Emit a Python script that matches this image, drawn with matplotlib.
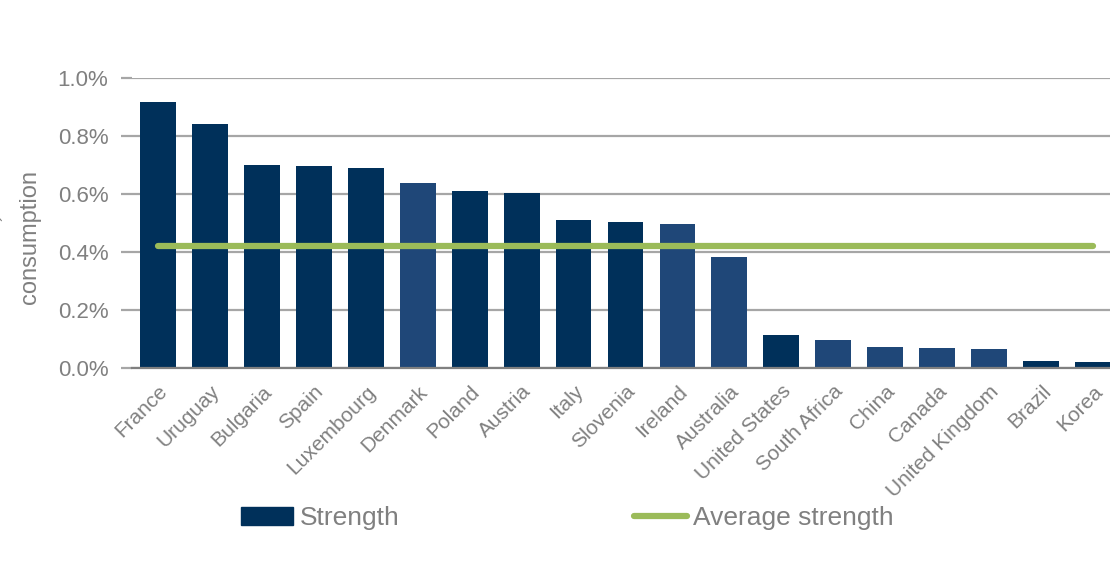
import numpy as np
import matplotlib.pyplot as plt
from matplotlib.patches import Patch
from matplotlib.lines import Line2D

plt.rcParams['font.family'] = ['Liberation Sans', 'DejaVu Sans']

# data
countries = ['France', 'Uruguay', 'Bulgaria', 'Spain', 'Luxembourg', 'Denmark',
             'Poland', 'Austria', 'Italy', 'Slovenia', 'Ireland', 'Australia',
             'United States', 'South Africa', 'China', 'Canada', 'United Kingdom',
             'Brazil', 'Korea']
strength = [0.917, 0.841, 0.700, 0.697, 0.690, 0.638, 0.610, 0.603, 0.510,
            0.503, 0.497, 0.383, 0.114, 0.097, 0.072, 0.069, 0.066, 0.024, 0.020]
average_strength = 0.421
highlight = ['Denmark', 'Ireland', 'Australia', 'South Africa', 'China',
             'Canada', 'United Kingdom']
yticks = [0.0, 0.2, 0.4, 0.6, 0.8, 1.0]

dark = '#00305A'
light = '#1F4778'
green = '#9BBB59'
grey = '#808080'

fig = plt.figure(figsize=(11.1, 5.82), dpi=100)
ax = fig.add_axes([132/1110, 1 - 368/582, (1119-132)/1110, (368-78)/582])

x = np.arange(len(countries))
colors = [light if c in highlight else dark for c in countries]
ax.bar(x, strength, width=0.69, color=colors, zorder=2)
ax.plot([x[0], x[-1]], [average_strength]*2, color=green, lw=4.5,
        solid_capstyle='round', zorder=3)

ax.set_xlim(-0.5, len(countries) - 0.5)
ax.set_ylim(0, 1.0)
ax.set_yticks(yticks)
ax.set_yticklabels(['%.1f%%' % v for v in yticks], fontsize=16, color=grey)
ax.yaxis.grid(True, color='#A6A6A6', lw=1.6, zorder=0)
ax.tick_params(axis='y', length=8, width=1.6, color='#A6A6A6', pad=9)
ax.set_xticks(x)
ax.set_xticklabels(countries, rotation=45, ha='right', rotation_mode='anchor',
                   fontsize=15, color=grey)
ax.tick_params(axis='x', length=0, pad=10)
for s in ['top', 'right', 'left']:
    ax.spines[s].set_visible(False)
ax.spines['bottom'].set_color(grey)
ax.spines['bottom'].set_linewidth(1.6)
ax.set_axisbelow(True)

fig.text(30/1110, 1 - 237/582, 'consumption', rotation=90, fontsize=17,
         color=grey, ha='center', va='center')
fig.text(9/1110, 1 - 218/582, '\u00b4', fontsize=14, color=grey,
         ha='center', va='center', rotation=90)

handles = [Patch(facecolor=dark, edgecolor=dark),
           Line2D([0], [0], color=green, lw=4.5, solid_capstyle='round')]
fig.legend(handles, ['Strength', 'Average strength'], loc='center',
           bbox_to_anchor=(567/1110, 1 - 518/582), ncol=2, frameon=False,
           fontsize=19, handlelength=2.0, handleheight=0.68,
           handletextpad=0.23, columnspacing=8.9, labelcolor=grey)

fig.savefig('out.png', dpi=100)
